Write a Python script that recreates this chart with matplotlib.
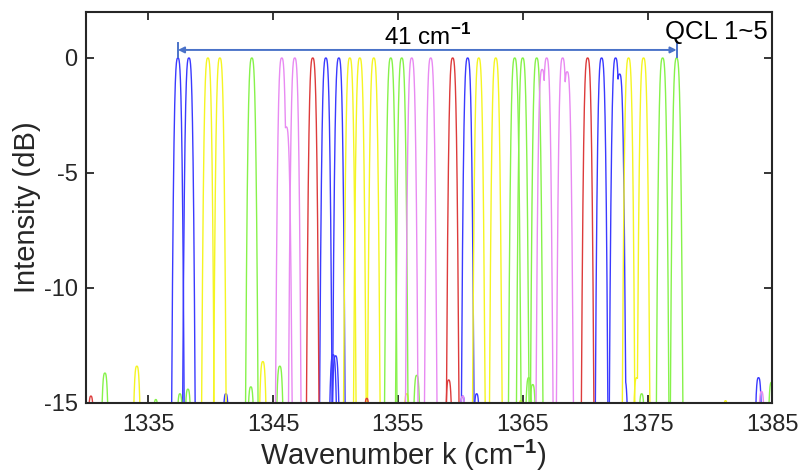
import numpy as np
import matplotlib
matplotlib.use('Agg')
import matplotlib.pyplot as plt

plt.rcParams['font.family'] = ['Liberation Sans', 'DejaVu Sans']
plt.rcParams['mathtext.fontset'] = 'custom'
plt.rcParams['mathtext.rm'] = 'Liberation Sans'
plt.rcParams['mathtext.bf'] = 'Liberation Sans:bold'
plt.rcParams['axes.unicode_minus'] = False

# main lasing peaks (cm^-1), 0 dB, one list per QCL
blue_peaks   = [1337.37, 1338.25, 1349.22, 1350.26, 1360.58, 1371.31, 1372.43]
yellow_peaks = [1339.77, 1340.73, 1351.14, 1351.94, 1353.06, 1361.47, 1362.83, 1373.47, 1374.67]
green_peaks  = [1343.29, 1354.42, 1355.30, 1364.35, 1364.99, 1366.11, 1376.20, 1377.32]
violet_peaks = [1345.69, 1346.73, 1356.10, 1357.62, 1366.91, 1368.19]
red_peaks    = [1348.17, 1359.38, 1370.19]

# shoulders on main peaks: (position, level dB)
blue_sh   = [(1372.75, -0.7), (1373.15, -14.0)]
yellow_sh = [(1374.12, -13.9)]
green_sh  = []
violet_sh = [(1346.05, -3.0), (1366.55, -0.5), (1368.55, -0.6)]
red_sh    = []

# weak side modes near the noise floor: (position, level dB)
blue_side   = [(1341.21, -14.6), (1349.80, -12.9), (1350.00, -12.95), (1360.18, -14.7),
               (1361.30, -14.6), (1383.88, -13.9)]
yellow_side = [(1334.08, -13.4), (1344.17, -13.2), (1355.70, -14.6), (1364.83, -14.9),
               (1381.24, -14.9)]
green_side  = [(1331.52, -13.7), (1335.60, -14.85), (1337.53, -14.6), (1338.17, -14.4),
               (1343.21, -14.3), (1345.53, -13.4), (1356.50, -13.8), (1365.47, -13.9),
               (1365.79, -14.2), (1374.52, -14.6), (1384.92, -14.1)]
violet_side = [(1360.18, -14.7), (1384.12, -14.5)]
red_side    = [(1330.40, -14.7), (1352.50, -14.8), (1359.06, -14.0)]

span_lo, span_hi = blue_peaks[0], green_peaks[-1]

k = np.linspace(1330, 1385, 22000)


def line_shape(pts):
    s = np.full_like(k, -16.0)
    for k0, h in pts:
        s = np.maximum(s, h - 15 * (np.abs(k - k0) / 0.5) ** 3)
    return s


fig = plt.figure(figsize=(8.03, 4.76), dpi=100)
ax = fig.add_axes([0.107, 0.1534, 0.855, 0.8214])

series = [(blue_peaks, blue_sh, blue_side, '#3a3aff'),
          (yellow_peaks, yellow_sh, yellow_side, '#f5f522'),
          (green_peaks, green_sh, green_side, '#86f24a'),
          (violet_peaks, violet_sh, violet_side, '#e88af2'),
          (red_peaks, red_sh, red_side, '#dd3b3b')]
for peaks, sh, side, c in series:
    for p in peaks:
        pts = [(p, 0.0)] + [s for s in sh if min(peaks, key=lambda q: abs(q - s[0])) == p]
        ax.plot(k, line_shape(pts), color=c, lw=1.0)
    for s in side:
        ax.plot(k, line_shape([s]), color=c, lw=1.0)

# span arrow
arrow_c = '#4a72c8'
ax.annotate('', xy=(span_lo, 0.35), xytext=(span_hi, 0.35),
            arrowprops=dict(arrowstyle='<|-|>', color=arrow_c, lw=1.4,
                            mutation_scale=9, shrinkA=0, shrinkB=0))
ax.plot([span_lo, span_lo], [0.05, 0.65], color=arrow_c, lw=1.4)
ax.plot([span_hi, span_hi], [0.05, 0.65], color=arrow_c, lw=1.4)
ax.text((span_lo + span_hi) / 2, 0.57, r'41 cm$^{\mathbf{-1}}$', ha='center',
        va='baseline', fontsize=17.5, color='black')
ax.text(1384.6, 0.83, 'QCL 1~5', ha='right', va='baseline', fontsize=18.5, color='black')

ax.set_xlim(1330, 1385)
ax.set_ylim(-15, 2)
ax.set_xticks([1335, 1345, 1355, 1365, 1375, 1385])
ax.set_yticks([0, -5, -10, -15])
ax.set_xlabel(r'Wavenumber k (cm$^{\mathbf{-1}}$)', fontsize=21, color='#262626')
ax.xaxis.set_label_coords(0.462, -0.088)
ax.set_ylabel('Intensity (dB)', fontsize=21, color='#262626', labelpad=2)
ax.tick_params(direction='in', length=6, width=1.3, top=True, right=True,
               labelsize=17, colors='#262626')
ax.tick_params(axis='x', pad=8)
ax.tick_params(axis='y', pad=6)
for sp in ax.spines.values():
    sp.set_linewidth(1.5)
    sp.set_color('#262626')
    sp.set_zorder(5)

fig.savefig('out.png', dpi=100)
